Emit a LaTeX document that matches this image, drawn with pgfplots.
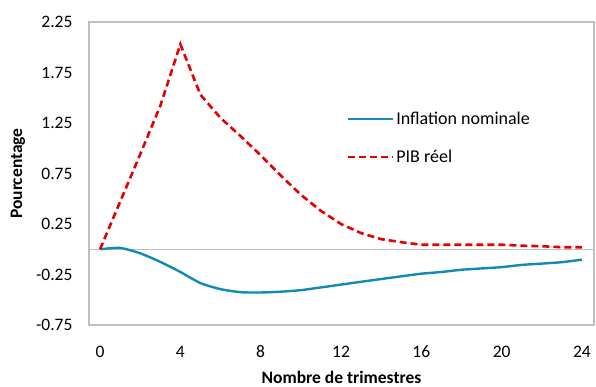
\documentclass[border=0pt]{standalone}
\usepackage{pgfplots}
\pgfplotsset{compat=1.18}
\usepackage{fontspec}
\setmainfont{Carlito}
\definecolor{infl}{RGB}{16,138,182}
\definecolor{pib}{RGB}{228,0,0}
\definecolor{axgray}{RGB}{191,191,191}
\begin{document}
\begin{tikzpicture}
\begin{axis}[
  scale only axis,
  width=505pt, height=303pt,
  xmin=-0.55, xmax=24.6,
  ymin=-0.75, ymax=2.25,
  axis line style={axgray, line width=1.2pt},
  xtick={0,4,8,12,16,20,24},
  ytick={-0.75,-0.25,0.25,0.75,1.25,1.75,2.25},
  yticklabels={-0.75,-0.25,0.25,0.75,1.25,1.75,2.25},
  xticklabels={0,4,8,12,16,20,24},
  major tick length=0pt,
  tick label style={font=\fontsize{17.5}{21}\selectfont},
  xticklabel style={anchor=base, yshift=-32pt},
  yticklabel style={xshift=-13pt},
  /pgf/number format/assume math mode=true,
  extra y ticks={0},
  extra y tick labels={},
  extra y tick style={grid=major, major grid style={axgray, line width=1.2pt}},
  xlabel={\textbf{Nombre de trimestres}},
  ylabel={\textbf{Pourcentage}},
  label style={font=\fontsize{17.5}{21}\selectfont},
  xlabel style={at={(axis description cs:0.5,0)}, anchor=base, yshift=-58pt},
  ylabel style={at={(axis description cs:0,0.5)}, anchor=center, yshift=71pt},
  legend style={draw=none, fill=none, at={(axis description cs:0.504,0.617)}, anchor=west,
    font=\fontsize{18}{21}\selectfont, row sep=20pt, column sep=0pt,
    nodes={inner sep=2pt}},
  legend cell align=left,
  legend image code/.code={\draw[#1] (0pt,0pt) -- (45pt,0pt);},
]
\addplot[infl, line width=2.4pt, smooth, tension=0.4] coordinates {
(0,0) (1,0.013) (2,-0.04) (3,-0.125) (4,-0.225) (5,-0.335) (6,-0.395) (7,-0.425) (8,-0.428)
(9,-0.42) (10,-0.405) (11,-0.378) (12,-0.35) (13,-0.322) (14,-0.295) (15,-0.268) (16,-0.242)
(17,-0.225) (18,-0.203) (19,-0.19) (20,-0.177) (21,-0.155) (22,-0.142) (23,-0.128) (24,-0.103)
};
\addlegendentry{Inflation nominale}
\addplot[pib, line width=2.6pt, dash pattern=on 7pt off 4pt] coordinates {
(0,0) (1,0.47) (2,0.94) (3,1.42) (4,2.03) (5,1.53) (6,1.30) (7,1.12) (8,0.93)
(9,0.73) (10,0.54) (11,0.38) (12,0.25) (13,0.16) (14,0.10) (15,0.07) (16,0.045)
(17,0.045) (18,0.045) (19,0.045) (20,0.045) (21,0.035) (22,0.03) (23,0.02) (24,0.02)
};
\addlegendentry{PIB réel}
\end{axis}
\path ([shift={(-89pt,-60pt)}]current axis.south west) rectangle ([shift={(2pt,22pt)}]current axis.north east);
\end{tikzpicture}
\end{document}
